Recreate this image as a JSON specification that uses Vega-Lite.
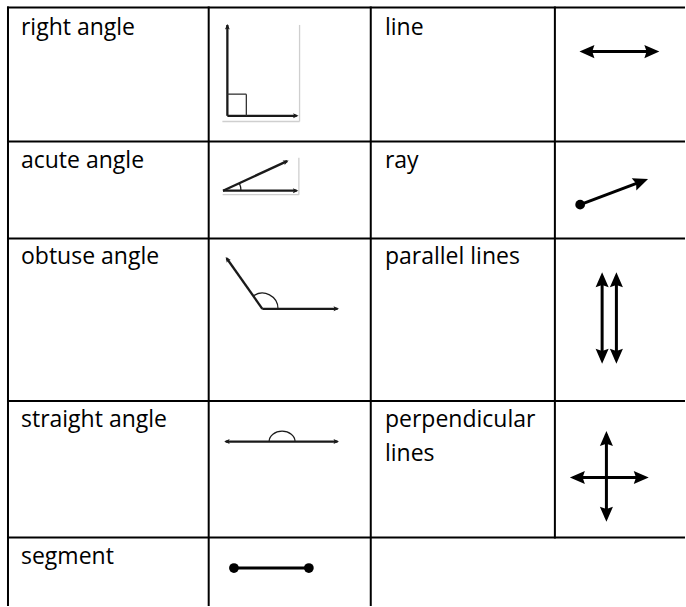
{
  "$schema": "https://vega.github.io/schema/vega-lite/v6.json",
  "width": 686,
  "height": 607,
  "autosize": {"type": "fit", "contains": "padding"},
  "padding": 0,
  "background": "white",
  "config": {"view": {"stroke": null}},
  "datasets": {
    "grid": [
      {"x": 7, "y": 7.5, "x2": 686, "y2": 7.5},
      {"x": 7, "y": 141.7, "x2": 686, "y2": 141.7},
      {"x": 7, "y": 239, "x2": 686, "y2": 239},
      {"x": 7, "y": 401.7, "x2": 686, "y2": 401.7},
      {"x": 7, "y": 538.3, "x2": 686, "y2": 538.3},
      {"x": 8, "y": 6.5, "x2": 8, "y2": 607},
      {"x": 209, "y": 6.5, "x2": 209, "y2": 607},
      {"x": 371.3, "y": 6.5, "x2": 371.3, "y2": 607},
      {"x": 555.7, "y": 6.5, "x2": 555.7, "y2": 539.3}
    ],
    "faint": [
      {"x": 300, "y": 25, "x2": 300, "y2": 121.7},
      {"x": 222.7, "y": 121.7, "x2": 300, "y2": 121.7},
      {"x": 299.3, "y": 158, "x2": 299.3, "y2": 195},
      {"x": 223, "y": 195, "x2": 299.3, "y2": 195}
    ],
    "strokes": [
      {"icon": "right angle", "x": 227.7, "y": 25, "x2": 227.7, "y2": 116},
      {"icon": "right angle", "x": 227.7, "y": 116, "x2": 297, "y2": 116},
      {"icon": "acute angle", "x": 223.3, "y": 191, "x2": 297, "y2": 191},
      {"icon": "acute angle", "x": 223.3, "y": 191, "x2": 287.5, "y2": 161.4},
      {"icon": "obtuse angle", "x": 262.7, "y": 309.3, "x2": 227, "y2": 258.7},
      {"icon": "obtuse angle", "x": 262.7, "y": 309.3, "x2": 338, "y2": 309.3},
      {"icon": "straight angle", "x": 226, "y": 442.3, "x2": 338, "y2": 442.3},
      {"icon": "segment", "x": 234.3, "y": 569, "x2": 309.3, "y2": 569},
      {"icon": "line", "x": 584, "y": 51.7, "x2": 656, "y2": 51.7},
      {"icon": "ray", "x": 581, "y": 205, "x2": 643.4, "y2": 181.4},
      {"icon": "parallel lines", "x": 603, "y": 277, "x2": 603, "y2": 360},
      {"icon": "parallel lines", "x": 617.3, "y": 277, "x2": 617.3, "y2": 360},
      {"icon": "perpendicular lines", "x": 607.3, "y": 435, "x2": 607.3, "y2": 519},
      {"icon": "perpendicular lines", "x": 574, "y": 478.3, "x2": 646, "y2": 478.3}
    ],
    "square": [
      {"x": 227.7, "y": 94.3, "x2": 246.7, "y2": 94.3},
      {"x": 246.7, "y": 94.3, "x2": 246.7, "y2": 116}
    ],
    "bigHeads": [
      {"icon": "line", "x": 580.3, "y": 51.7, "dir": 180},
      {"icon": "line", "x": 660.3, "y": 51.7, "dir": 0},
      {"icon": "ray", "x": 649, "y": 179.3, "dir": 339.3},
      {"icon": "parallel lines", "x": 603, "y": 272.7, "dir": 270},
      {"icon": "parallel lines", "x": 617.3, "y": 272.7, "dir": 270},
      {"icon": "parallel lines", "x": 603, "y": 364.3, "dir": 90},
      {"icon": "parallel lines", "x": 617.3, "y": 364.3, "dir": 90},
      {"icon": "perpendicular lines", "x": 607.3, "y": 431.7, "dir": 270},
      {"icon": "perpendicular lines", "x": 607.3, "y": 522.7, "dir": 90},
      {"icon": "perpendicular lines", "x": 570.7, "y": 478.3, "dir": 180},
      {"icon": "perpendicular lines", "x": 649.7, "y": 478.3, "dir": 0}
    ],
    "smallHeads": [
      {"icon": "right angle", "x": 227.7, "y": 24, "dir": 270},
      {"icon": "right angle", "x": 299, "y": 116, "dir": 0},
      {"icon": "acute angle", "x": 298.8, "y": 191, "dir": 0},
      {"icon": "acute angle", "x": 289, "y": 160.7, "dir": 335.2},
      {"icon": "obtuse angle", "x": 226, "y": 257.3, "dir": 234.8},
      {"icon": "obtuse angle", "x": 339.5, "y": 309.3, "dir": 0},
      {"icon": "straight angle", "x": 224.5, "y": 442.3, "dir": 180},
      {"icon": "straight angle", "x": 339.5, "y": 442.3, "dir": 0}
    ],
    "dots": [
      {"icon": "segment", "x": 234.3, "y": 569},
      {"icon": "segment", "x": 309.3, "y": 569},
      {"icon": "ray", "x": 581, "y": 205}
    ],
    "arcs": [
      {"icon": "acute angle", "x": 223.3, "y": 191},
      {"icon": "obtuse angle", "x": 262.7, "y": 309.3},
      {"icon": "straight angle", "x": 282.5, "y": 442.3}
    ],
    "labels": [
      {"x": 21, "y": 35, "text": "right angle"},
      {"x": 21, "y": 168.3, "text": "acute angle"},
      {"x": 21, "y": 264.5, "text": "obtuse angle"},
      {"x": 21, "y": 427.5, "text": "straight angle"},
      {"x": 21, "y": 565, "text": "segment"},
      {"x": 385.5, "y": 35, "text": "line"},
      {"x": 385.5, "y": 168.3, "text": "ray"},
      {"x": 385.5, "y": 264.5, "text": "parallel lines"},
      {"x": 385.5, "y": 427.5, "text": "perpendicular\nlines"}
    ]
  },
  "encoding": {
    "x": {"field": "x", "type": "quantitative", "axis": null, "scale": {"domain": [0, 686], "nice": false, "zero": false}},
    "y": {"field": "y", "type": "quantitative", "axis": null, "scale": {"domain": [0, 607], "nice": false, "zero": false, "reverse": true}}
  },
  "layer": [
    {
      "data": {"name": "grid"},
      "mark": {"type": "rule", "color": "#000000", "strokeWidth": 2},
      "encoding": {"x2": {"field": "x2"}, "y2": {"field": "y2"}}
    },
    {
      "data": {"name": "faint"},
      "mark": {"type": "rule", "color": "#cfcfcf", "strokeWidth": 1.3},
      "encoding": {"x2": {"field": "x2"}, "y2": {"field": "y2"}}
    },
    {
      "data": {"name": "strokes"},
      "transform": [{"filter": {"field": "icon", "oneOf": ["right angle", "acute angle", "obtuse angle", "straight angle"]}}],
      "mark": {"type": "rule", "color": "#1a1a1a", "strokeWidth": 2.3},
      "encoding": {"x2": {"field": "x2"}, "y2": {"field": "y2"}}
    },
    {
      "data": {"name": "square"},
      "mark": {"type": "rule", "color": "#333333", "strokeWidth": 1.3},
      "encoding": {"x2": {"field": "x2"}, "y2": {"field": "y2"}}
    },
    {
      "data": {"name": "strokes"},
      "transform": [{"filter": {"field": "icon", "oneOf": ["segment", "line", "ray", "parallel lines", "perpendicular lines"]}}],
      "mark": {"type": "rule", "color": "#000000", "strokeWidth": 3},
      "encoding": {"x2": {"field": "x2"}, "y2": {"field": "y2"}}
    },
    {
      "data": {"name": "bigHeads"},
      "mark": {"type": "point", "shape": "M0,0L-2,-0.87L-1.7,0L-2,0.87Z", "filled": true, "color": "#000000", "opacity": 1, "size": 225},
      "encoding": {"angle": {"field": "dir", "type": "quantitative", "scale": null}}
    },
    {
      "data": {"name": "smallHeads"},
      "mark": {"type": "point", "shape": "M0,0L-2,-0.9L-1.6,0L-2,0.9Z", "filled": true, "color": "#1a1a1a", "opacity": 1, "size": 30},
      "encoding": {"angle": {"field": "dir", "type": "quantitative", "scale": null}}
    },
    {
      "data": {"name": "dots"},
      "mark": {"type": "point", "shape": "circle", "filled": true, "color": "#000000", "opacity": 1, "size": 95}
    },
    {
      "data": {"name": "arcs"},
      "mark": {"type": "point", "filled": false, "color": "#1a1a1a", "opacity": 1, "strokeWidth": 1.2},
      "encoding": {
        "shape": {"field": "icon", "type": "nominal", "legend": null, "scale": {"domain": ["acute angle", "obtuse angle", "straight angle"], "range": ["M1,0A1,1,0,0,0,0.908,-0.42", "M1,0A1,1,0,0,0,-0.577,-0.817", "M-1,0A1,0.8,0,0,1,1,0"]}},
        "size": {"field": "icon", "type": "nominal", "legend": null, "scale": {"domain": ["acute angle", "obtuse angle", "straight angle"], "range": [1296, 676, 729]}}
      }
    },
    {
      "data": {"name": "labels"},
      "mark": {"type": "text", "align": "left", "baseline": "alphabetic", "font": "Open Sans", "fontSize": 23, "color": "#000000", "lineBreak": "\n", "lineHeight": 34},
      "encoding": {"text": {"field": "text", "type": "nominal"}}
    }
  ]
}
